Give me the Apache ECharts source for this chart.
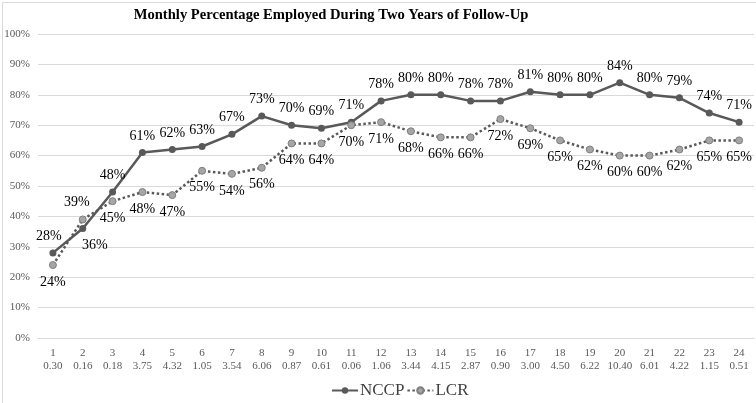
<!DOCTYPE html>
<html>
<head>
<meta charset="utf-8">
<script src="https://cdn.jsdelivr.net/npm/echarts@6/dist/echarts.min.js"></script>
<style>
html,body{margin:0;padding:0;background:#fff;}
#chart{width:756px;height:403px;}
</style>
</head>
<body>
<div id="chart"></div>
<script>
const months = ['1','2','3','4','5','6','7','8','9','10','11','12','13','14','15','16','17','18','19','20','21','22','23','24'];
const pValues = ['0.30','0.16','0.18','3.75','4.32','1.05','3.54','6.06','0.87','0.61','0.06','1.06','3.44','4.15','2.87','0.90','3.00','4.50','6.22','10.40','6.01','4.22','1.15','0.51'];
const nccp = [28,36,48,61,62,63,67,73,70,69,71,78,80,80,78,78,81,80,80,84,80,79,74,71];
const lcr = [24,39,45,48,47,55,54,56,64,64,70,71,68,66,66,72,69,65,62,60,60,62,65,65];
const yTicks = [0,10,20,30,40,50,60,70,80,90,100];

const serif = '"Liberation Serif","Times New Roman",serif';
const categories = months.map((m, i) => m + '\n' + pValues[i]);

const nccpData = nccp.map((v, i) => i === 1
  ? {value: v, label: {position: 'bottom', offset: [12, 0]}}
  : (i === 0 ? {value: v, label: {position: 'top', offset: [-4, 0]}} : v));
const lcrData = lcr.map((v, i) => i === 1
  ? {value: v, label: {position: 'top', offset: [-6, 0]}}
  : v);

const chart = echarts.init(document.getElementById('chart'));
chart.setOption({
  animation: false,
  backgroundColor: '#fff',
  title: {
    text: 'Monthly Percentage Employed During Two Years of Follow-Up',
    left: 326, top: 3, textAlign: 'center',
    textStyle: {fontFamily: serif, fontWeight: 'bold', fontSize: 14.6, color: '#000'}
  },
  graphic: [{
    type: 'rect', left: 0, top: 0, silent: true,
    shape: {x: 0.5, y: 0.5, width: 755, height: 402},
    style: {fill: 'none', stroke: '#d9d9d9', lineWidth: 1}
  }],
  legend: {
    top: 377, left: 326,
    itemWidth: 26, itemHeight: 8, itemGap: 2,
    textStyle: {fontFamily: serif, fontSize: 17, color: '#404040', padding: [0, 0, 0, -3]},
    data: ['NCCP', 'LCR']
  },
  grid: {left: 38, right: 2, top: 34, bottom: 65, containLabel: false},
  xAxis: {
    type: 'category', data: categories, boundaryGap: true,
    axisLine: {lineStyle: {color: '#d9d9d9'}},
    axisTick: {show: false},
    axisLabel: {fontFamily: serif, fontSize: 11, color: '#595959', lineHeight: 13, margin: 9, interval: 0}
  },
  yAxis: {
    type: 'value', min: 0, max: 100, interval: 10,
    axisLine: {show: false}, axisTick: {show: false},
    splitLine: {lineStyle: {color: '#d9d9d9', width: 1}},
    axisLabel: {fontFamily: serif, fontSize: 11, color: '#595959', formatter: v => v + '%', margin: 8}
  },
  series: [{
    name: 'NCCP', type: 'line', data: nccpData,
    symbol: 'circle', symbolSize: 7,
    lineStyle: {color: '#595959', width: 2.5},
    itemStyle: {color: '#595959'},
    label: {show: true, position: 'top', distance: 6, formatter: p => p.value + '%',
      fontFamily: serif, fontSize: 14, color: '#000'}
  }, {
    name: 'LCR', type: 'line', data: lcrData,
    symbol: 'circle', symbolSize: 7,
    lineStyle: {color: '#595959', width: 2.5, type: [2.5, 2.5]},
    itemStyle: {color: '#a6a6a6', borderColor: '#7f7f7f', borderWidth: 1},
    label: {show: true, position: 'bottom', distance: 6, formatter: p => p.value + '%',
      fontFamily: serif, fontSize: 14, color: '#000'}
  }]
});
</script>
</body>
</html>
